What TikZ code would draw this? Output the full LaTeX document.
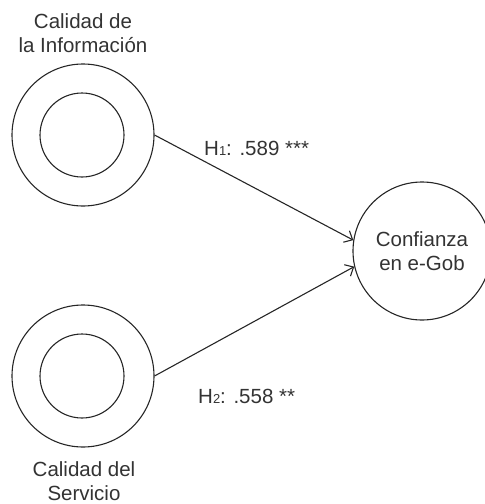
\documentclass[tikz,border=0pt]{standalone}
\usepackage{fontspec}
\setmainfont{Liberation Sans}
\usetikzlibrary{arrows.meta}

\begin{document}
\begin{tikzpicture}[
        x=1pt, y=-1pt,
        font=\fontsize{20.5}{23.5}\selectfont,
        linea/.style={draw=black!85, line width=1.1pt},
        latente/.style={
            circle,
            linea,
            inner sep=0pt,
            minimum size=142pt
        },
        interno/.style={
            circle,
            linea,
            inner sep=0pt,
            minimum size=84pt
        },
        camino/.style={
            linea,
            -{Straight Barb[length=7pt,width=13pt,line width=1.1pt]}
        },
        etiqueta/.style={align=center, inner sep=0pt, text=black!80}
    ]
        \useasboundingbox (0,0) rectangle (485,504);

        % Constructos de segundo orden (circulo doble)
        \foreach \nombre/\y in {ci/135, cs/376} {
            \node[latente] (\nombre) at (83,\y) {};
            \node[interno] (\nombre In) at (82,\y) {};
        }

        % Variable dependiente
        \node[latente, minimum size=138pt, etiqueta] (cg) at (422,251)
            {Confianza\\en e-Gob};

        % Nombres
        \node[etiqueta, anchor=base] (tci) at (83,52) {Calidad de\\la Informaci\'on};
        \node[etiqueta, anchor=base] (tcs) at (84,500) {Calidad del\\Servicio};

        % Caminos
        \draw[camino] (ci.east) -- (cg.171);
        \draw[camino] (cs.east) -- (cg.193);

        % Coeficientes
        \node[etiqueta, anchor=base west] (h1) at (204,155)
            {H{\fontsize{13}{13}\selectfont 1}: .589 ***};
        \node[etiqueta, anchor=base west] (h2) at (198,403)
            {H{\fontsize{13}{13}\selectfont 2}: .558 **};
    \end{tikzpicture}
\end{document}
